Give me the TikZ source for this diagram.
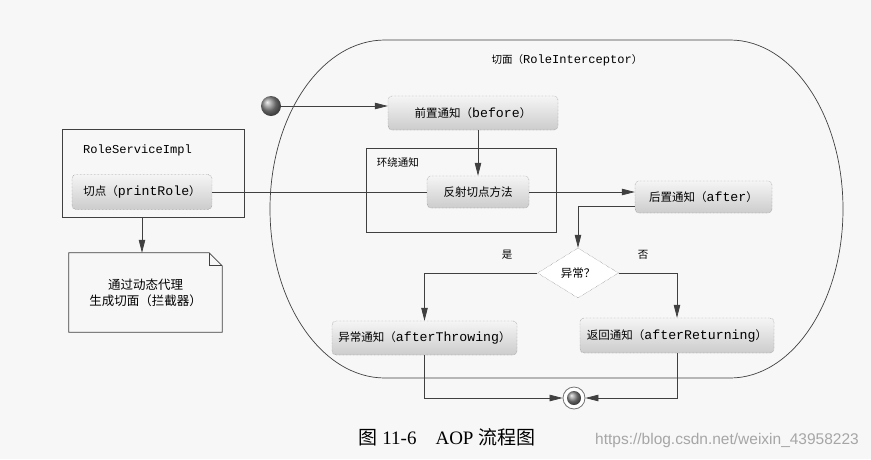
\documentclass[tikz,border=0pt]{standalone}
\usepackage{fontspec}
\setmainfont{Liberation Serif}
\setsansfont{Liberation Sans}
\setmonofont[Scale=1.15]{Liberation Mono}
\newfontfamily\cjk{Noto Sans CJK SC}
\usetikzlibrary{arrows.meta,shapes.geometric}

\begin{document}
\begin{tikzpicture}[x=1pt, y=-1pt,
    conn/.style = {draw=black!75, line width=0.7pt},
    >={Triangle[length=13pt,width=6.5pt]},
    act/.style = {draw=black!60, densely dotted, rounded corners=4pt, top color=black!4, bottom color=black!20,
                  font=\fontsize{11.5}{14}\selectfont\cjk, text=black, inner sep=0pt},
    frame/.style = {draw=black!75, line width=0.7pt, inner sep=0pt},
    lbl/.style = {font=\fontsize{10.5}{13}\selectfont\cjk, text=black, inner sep=0pt}]
        \useasboundingbox (0,0) rectangle (871,459);
        \fill[black!3] (0,0) rectangle (871,459);

        % Aspect outline
        \draw[conn] (385,40) -- (730,40) arc[start angle=-90, end angle=90, x radius=113, y radius=169]
            -- (385,378) arc[start angle=90, end angle=270, x radius=115, y radius=169] -- cycle;

        % Nodes
        \node[lbl] (title) at (567,60) {切面（\texttt{RoleInterceptor}）};
        \node[circle, minimum size=20pt, inner sep=0pt, ball color=black!45] (start) at (271,106) {};
        \node[act, minimum width=170pt, minimum height=34pt] (before) at (473,113) {前置通知（\texttt{before}）};
        \node[frame, minimum width=190pt, minimum height=84pt] (around) at (461,190) {};
        \node[lbl, anchor=north west] (aroundlbl) at ([xshift=11pt,yshift=-10pt]around.north west) {环绕通知};
        \node[act, minimum width=102pt, minimum height=32pt] (reflect) at (478,192) {反射切点方法};
        \node[act, minimum width=137pt, minimum height=32pt] (after) at (703.5,197) {后置通知（\texttt{after}）};
        \node[act, diamond, rounded corners=0pt, aspect=1.6, minimum width=81pt, minimum height=50pt,
              top color=white, bottom color=white] (cond) at (578,273) {异常？};
        \node[lbl] (yes) at (507,255) {是};
        \node[lbl] (no) at (643,255) {否};
        \node[act, minimum width=185pt, minimum height=34pt] (throw) at (424.5,338) {异常通知（\texttt{afterThrowing}）};
        \node[act, minimum width=194pt, minimum height=35pt] (ret) at (677,335.5) {返回通知（\texttt{afterReturning}）};
        \node[circle, draw=black!55, line width=0.8pt, minimum size=22pt, inner sep=0pt, fill=white] (final) at (574,398) {};
        \node[circle, minimum size=14pt, inner sep=0pt, ball color=black!45] (finaldot) at (final) {};

        \node[frame, minimum width=182pt, minimum height=88pt] (impl) at (153,173) {};
        \node[lbl, anchor=west] (implname) at (83,150) {\texttt{RoleServiceImpl}};
        \node[act, minimum width=140pt, minimum height=35pt] (point) at (142,192) {切点（\texttt{printRole}）};
        \node[lbl, minimum width=153pt, minimum height=79pt, align=center, font=\fontsize{12.5}{16}\selectfont\cjk] (note) at (145.5,292.5) {通过动态代理\\生成切面（拦截器）};
        \draw[conn] (note.north west) -- ([xshift=-13pt]note.north east) -- ([yshift=-13pt]note.north east)
            -- (note.south east) -- (note.south west) -- cycle;
        \draw[conn] ([xshift=-13pt]note.north east) |- ([yshift=-13pt]note.north east);

        % Connections
        \draw[conn,->] (start) -- (start -| before.west);
        \draw[conn,->] (before.south -| reflect.north) -- (reflect.north);
        \draw[conn] (point.east) -- (reflect.west);
        \draw[conn,->] (reflect.east) -- (reflect.east -| after.west);
        \draw[conn,->] ([yshift=-9pt]after.west) -| (cond.north);
        \draw[conn,->] (cond.west) -| (throw.north);
        \draw[conn,->] (cond.east) -| (ret.north);
        \draw[conn,->] (throw.south) |- (final.west);
        \draw[conn,->] (ret.south) |- (final.east);
        \draw[conn,->] (point.south |- impl.south) -- (point.south |- note.north);

        % Caption
        \node[font=\fontsize{19}{22}\selectfont] (caption) at (447,437) {{\cjk 图} 11-6\quad AOP {\cjk 流程图}};
        \node[font=\sffamily\fontsize{15.5}{17}\selectfont, text=black!35] (mark) at (727,440) {https://blog.csdn.net/weixin\_43958223};
      \end{tikzpicture}
\end{document}
